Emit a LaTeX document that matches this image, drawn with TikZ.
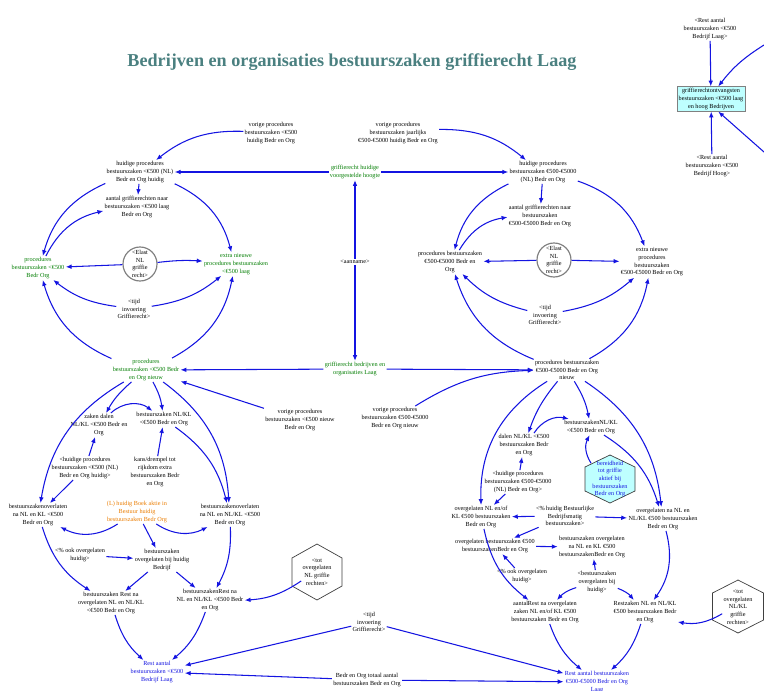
\documentclass[tikz,border=0pt]{standalone}
\usepackage{fontspec}
\setmainfont{Liberation Serif}
\usepackage{tikz}
\usetikzlibrary{arrows.meta, positioning, calc}
\definecolor{vblue}{RGB}{20,20,225}
\definecolor{vgreen}{RGB}{0,125,0}
\definecolor{vorange}{RGB}{235,125,0}
\definecolor{titleteal}{RGB}{74,128,128}
\definecolor{lightcyan}{RGB}{190,255,255}

\begin{document}
\begin{tikzpicture}[x=0.3mm, y=0.3mm,
  var/.style={font=\fontsize{5.3}{6.6}\selectfont, align=center, inner sep=1pt},
  grn/.style={var, text=vgreen},
  lnk/.style={draw=vblue, line width=0.9pt, -{Latex[length=5pt,width=4pt]}},
  rim/.style={var, circle, draw=gray, line width=1pt, minimum size=1.02cm, inner sep=0pt},
  hexline/.style={draw=black!75, line width=0.6pt}]
  \fill[white] (0,0) rectangle (764,-691);
  \useasboundingbox (0,0) rectangle (764,-691);
  % title
  \node[font=\fontsize{15.5}{18}\selectfont\bfseries, text=titleteal] (titel) at (352,-62) {Bedrijven en organisaties bestuurszaken griffierecht Laag};

  % totals (far right)
  \node[var] (refRestLaag) at (710,-29) {<Rest aantal\\bestuurszaken <€500\\Bedrijf Laag>};
  \node[var, draw=gray, fill=lightcyan, inner sep=1.5pt] (ontvangst) at (711,-99) {griffierechtontvangsten\\bestuurszaken <€500 laag\\en hoog Bedrijven};
  \node[var] (refRestHoog) at (712,-166) {<Rest aantal\\bestuurszaken <€500\\Bedrijf Hoog>};
  \coordinate (inTop) at (764,-45);
  \coordinate (inBot) at (764,-152);
  \draw[lnk] (refRestLaag) -- (ontvangst);
  \draw[lnk] (refRestHoog) -- (ontvangst);
  \draw[lnk] (inTop) to[bend right=10] (ontvangst.60);
  \draw[lnk] (inBot) -- (ontvangst.-60);

  % griffierecht (centre)
  \node[grn] (grHuidig) at (355,-172) {griffierecht huidige\\voorgestelde hoogte};
  \node[var] (aanname) at (355,-262) {<aanname>};
  \node[grn] (grLaag) at (355,-369) {griffierecht bedrijven en\\organisaties Laag};
  \draw[lnk] (aanname) -- (grHuidig);
  \draw[lnk] (aanname) -- (grLaag);

  % top-left loop (<500)
  \node[var] (vorigKlein) at (271,-133) {vorige procedures\\bestuurszaken <€500\\huidig Bedr en Org};
  \node[var] (huidigKlein) at (140,-172) {huidige procedures\\bestuurszaken <€500 (NL)\\Bedr en Org huidig};
  \node[var] (aantalKlein) at (137,-207) {aantal griffierechten naar\\bestuurszaken <€500 laag\\Bedr en Org};
  \node[grn] (procKlein) at (38,-268) {procedures\\bestuurszaken <€500\\Bedr Org};
  \node[rim] (elastKlein) at (140,-264) {<Elast\\NL\\griffie\\recht>};
  \node[grn] (extraKlein) at (236,-264) {extra nieuwe\\procedures bestuurszaken\\<€500 laag};
  \node[var] (tijdKlein) at (134,-309) {<tijd\\invoering\\Griffierecht>};
  \node[grn] (nieuwKlein) at (146,-370) {procedures\\bestuurszaken <€500 Bedr\\en Org nieuw};
  \draw[lnk] (vorigKlein) to[bend right=20] (huidigKlein);
  \draw[lnk] (grHuidig) -- (huidigKlein);
  \draw[lnk] (huidigKlein) -- (aantalKlein);
  \draw[lnk] (huidigKlein) to[bend right=25] (procKlein);
  \draw[lnk] (procKlein) to[bend left=25] (aantalKlein);
  \draw[lnk] (huidigKlein) to[bend left=25] (extraKlein);
  \draw[lnk] (elastKlein) -- (procKlein);
  \draw[lnk] (elastKlein) to[bend left=5] (extraKlein);
  \draw[lnk] (tijdKlein) to[bend left=15] (procKlein);
  \draw[lnk] (tijdKlein) to[bend right=15] (extraKlein);
  \draw[lnk] (nieuwKlein) to[bend left=25] (procKlein);
  \draw[lnk] (nieuwKlein) to[bend right=25] (extraKlein);
  \draw[lnk] (grLaag) -- (nieuwKlein);

  % top-right loop (500-5000)
  \node[var] (vorigMid) at (398,-133) {vorige procedures\\bestuurszaken jaarlijks\\€500-€5000 huidig Bedr en Org};
  \node[var] (huidigMid) at (543,-172) {huidige procedures\\bestuurszaken €500-€5000\\(NL) Bedr en Org};
  \node[var] (aantalMid) at (540,-216) {aantal griffierechten naar\\bestuurszaken\\€500-€5000 Bedr en Org};
  \node[var] (procMid) at (450,-262) {procedures bestuurszaken\\€500-€5000 Bedr en\\Org};
  \node[rim] (elastMid) at (554,-260) {<Elast\\NL\\griffie\\recht>};
  \node[var] (extraMid) at (652,-262) {extra nieuwe\\procedures\\bestuurszaken\\€500-€5000 Bedr en Org};
  \node[var] (tijdMid) at (545,-315) {<tijd\\invoering\\Griffierecht>};
  \node[var] (nieuwMid) at (567,-370) {procedures bestuurszaken\\€500-€5000 Bedr en Org\\nieuw};
  \draw[lnk] (vorigMid) to[bend left=20] (huidigMid);
  \draw[lnk] (grHuidig) -- (huidigMid);
  \draw[lnk] (huidigMid) -- (aantalMid);
  \draw[lnk] (huidigMid) to[bend right=25] (procMid);
  \draw[lnk] (procMid) to[bend left=25] (aantalMid);
  \draw[lnk] (huidigMid) to[bend left=25] (extraMid);
  \draw[lnk] (elastMid) -- (procMid);
  \draw[lnk] (elastMid) -- (extraMid);
  \draw[lnk] (tijdMid) to[bend left=15] (procMid);
  \draw[lnk] (tijdMid) to[bend right=15] (extraMid);
  \draw[lnk] (nieuwMid) to[bend left=25] (procMid);
  \draw[lnk] (nieuwMid) to[bend right=25] (extraMid);
  \draw[lnk] (grLaag) -- (nieuwMid);

  % previous years
  \node[var] (vorigNieuwKlein) at (300,-420) {vorige procedures\\bestuurszaken <€500 nieuw\\Bedr en Org};
  \node[var] (vorigNieuwMid) at (395,-418) {vorige procedures\\bestuurszaken €500-€5000\\Bedr en Org nieuw};
  \draw[lnk] (vorigNieuwKlein) -- (nieuwKlein);
  \draw[lnk] (vorigNieuwMid) to[bend left=15] (nieuwMid);

  % bottom-left (<500)
  \node[var] (dalenKlein) at (99,-425) {zaken dalen\\NL/KL <€500 Bedr en\\Org};
  \node[var] (nlklKlein) at (164,-419) {bestuurszaken NL/KL\\<€500 Bedr en Org};
  \node[var] (refHuidigKlein) at (85,-468) {<huidige procedures\\bestuurszaken <€500 (NL)\\Bedr en Org huidig>};
  \node[var] (kansKlein) at (155,-472) {kans/drempel tot\\rijkdom extra\\bestuurszaken Bedr\\en Org};
  \node[var] (overNLKlein) at (38,-515) {bestuurszakenoverlaten\\na NL en KL <€500\\Bedr en Org};
  \node[var, text=vorange] (boekKlein) at (137,-512) {(L) huidig Boek aktie in\\Bestuur huidig\\bestuurszaken Bedr Org};
  \node[var] (overNLKLKlein) at (230,-515) {bestuurszakenoverlaten\\na NL en NL/KL <€500\\Bedr en Org};
  \node[var] (pctOverKlein) at (80,-555) {<\% ook overgelaten\\huidig>};
  \node[var] (overHuidigKlein) at (162,-560) {bestuurszaken\\overgelaten bij huidig\\Bedrijf};
  \draw[hexline] (317,-544) -- ++(25,-14) -- ++(0,-28) -- ++(-25,-14) -- ++(-25,14) -- ++(0,28) -- cycle;
  \node[var] (totOverKlein) at (317,-572) {<tot\\overgelaten\\NL griffie\\rechten>};
  \node[var] (restOverKlein) at (111,-603) {bestuurszaken Rest na\\overgelaten NL en NL/KL\\<€500 Bedr en Org};
  \node[var] (restNLKlein) at (210,-600) {bestuurszakenRest na\\NL en NL/KL <€500 Bedr\\en Org};
  \node[var, text=vblue] (restLaagKlein) at (157,-672) {Rest aantal\\bestuurszaken <€500\\Bedrijf Laag};
  \node[var] (tijdRest) at (369,-622) {<tijd\\invoering\\Griffierecht>};
  \node[var] (totaalBedr) at (367,-680) {Bedr en Org totaal aantal\\bestuurszaken Bedr en Org};
  \draw[lnk] (nieuwKlein) to[bend right=25] (overNLKlein);
  \draw[lnk] (nieuwKlein) to[bend right=10] (dalenKlein);
  \draw[lnk] (nieuwKlein) to[bend left=10] (nlklKlein);
  \draw[lnk] (nieuwKlein) to[bend left=25] (overNLKLKlein);
  \draw[lnk] (nlklKlein) to[bend left=20] (overNLKLKlein);
  \draw[lnk] (dalenKlein) to[bend left=40] (nlklKlein);
  \draw[lnk] (refHuidigKlein) -- (dalenKlein);
  \draw[lnk] (kansKlein) -- (nlklKlein);
  \draw[lnk] (refHuidigKlein) -- (overNLKlein);
  \draw[lnk] (boekKlein) to[bend left=30] (overNLKlein);
  \draw[lnk] (boekKlein) to[bend right=30] (overNLKLKlein);
  \draw[lnk] (boekKlein) -- (overHuidigKlein);
  \draw[lnk] (pctOverKlein) -- (overHuidigKlein);
  \draw[lnk] (overNLKlein) to[bend right=20] (restOverKlein);
  \draw[lnk] (overHuidigKlein) -- (restOverKlein);
  \draw[lnk] (overHuidigKlein) -- (restNLKlein);
  \draw[lnk] (overNLKLKlein) to[bend left=15] (restNLKlein);
  \draw[lnk] (totOverKlein) to[bend left=15] (restNLKlein);
  \draw[lnk] (restOverKlein) to[bend right=15] (restLaagKlein);
  \draw[lnk] (restNLKlein) to[bend left=15] (restLaagKlein);
  \draw[lnk] (tijdRest) -- (restLaagKlein);
  \draw[lnk] (totaalBedr) -- (restLaagKlein);

  % bottom-right (500-5000)
  \node[var] (dalenMid) at (524,-445) {dalen NL/KL <€500\\bestuurszaken Bedr\\en Org};
  \node[var] (refHuidigMid) at (518,-482) {<huidige procedures\\bestuurszaken €500-€5000\\(NL) Bedr en Org>};
  \node[var] (nlklMid) at (591,-427) {bestuurszakenNL/KL\\<€500 Bedr en Org};
  \draw[hexline, fill=lightcyan] (610,-455) -- ++(25,-12) -- ++(0,-24) -- ++(-25,-12) -- ++(-25,12) -- ++(0,24) -- cycle;
  \node[var, text=vblue] (bereidMid) at (610,-479) {bereidheid\\tot griffie\\aktief bij\\bestuurszaken\\Bedr en Org};
  \node[var] (overNLMid) at (481,-517) {overgelaten NL en/of\\KL €500 bestuurszaken\\Bedr en Org};
  \node[var] (pctHuidigMid) at (565,-516) {<\% huidig Bestuurlijke\\Bedrijfsmatig\\bestuurszaken>};
  \node[var] (overNLKLMid) at (663,-519) {overgelaten na NL en\\NL/KL €500 bestuurszaken\\Bedr en Org};
  \node[var] (overMid) at (495,-546) {overgelaten bestuurszaken €500\\bestuurszakenBedr en Org};
  \node[var] (overNaMid) at (592,-547) {bestuurszaken overgelaten\\na NL en KL €500\\bestuurszakenBedr en Org};
  \node[var] (pctOverMid) at (522,-576) {<\% ook overgelaten\\huidig>};
  \node[var] (refOverMid) at (597,-582) {<bestuurszaken\\overgelaten bij\\huidig>};
  \node[var] (restOverMid) at (545,-612) {aantalRest na overgelaten\\zaken NL en/of KL €500\\bestuurszaken Bedr en Org};
  \node[var] (restNLMid) at (645,-612) {Restzaken NL en NL/KL\\€500 bestuurszaken Bedr\\en Org};
  \draw[hexline] (738,-580) -- ++(25.5,-13) -- ++(0,-27) -- ++(-25.5,-13) -- ++(-25.5,13) -- ++(0,27) -- cycle;
  \node[var] (totOverMid) at (738,-607) {<tot\\overgelaten\\NL/KL\\griffie\\rechten>};
  \node[var, text=vblue] (restLaagMid) at (597,-682) {Rest aantal bestuurszaken\\€500-€5000 Bedr en Org\\Laag};
  \draw[lnk] (nieuwMid) to[bend right=30] (overNLMid);
  \draw[lnk] (nieuwMid) to[bend right=10] (dalenMid);
  \draw[lnk] (nieuwMid) to[bend left=10] (nlklMid);
  \draw[lnk] (nieuwMid) to[bend left=25] (overNLKLMid);
  \draw[lnk] (dalenMid) to[bend left=35] (nlklMid);
  \draw[lnk] (refHuidigMid) -- (dalenMid);
  \draw[lnk] (bereidMid) to[bend left=30] (nlklMid);
  \draw[lnk] (nlklMid) to[bend left=20] (overNLKLMid);
  \draw[lnk] (refHuidigMid) -- (overNLMid);
  \draw[lnk] (pctHuidigMid) -- (overNLMid);
  \draw[lnk] (pctHuidigMid) -- (overNLKLMid);
  \draw[lnk] (pctHuidigMid) -- (overMid);
  \draw[lnk] (pctOverMid) -- (overMid);
  \draw[lnk] (overMid) -- (overNaMid);
  \draw[lnk] (refOverMid) -- (overNaMid);
  \draw[lnk] (refOverMid) to[bend right=15] (restOverMid);
  \draw[lnk] (refOverMid) to[bend left=15] (restNLMid);
  \draw[lnk] (overNLMid) to[bend right=20] (restOverMid);
  \draw[lnk] (overNLKLMid) to[bend left=25] (restNLMid);
  \draw[lnk] (totOverMid) to[bend left=20] (restNLMid);
  \draw[lnk] (restOverMid) to[bend right=15] (restLaagMid);
  \draw[lnk] (restNLMid) to[bend left=15] (restLaagMid);
  \draw[lnk] (tijdRest) -- (restLaagMid);
  \draw[lnk] (totaalBedr) -- (restLaagMid);
\end{tikzpicture}
\end{document}
